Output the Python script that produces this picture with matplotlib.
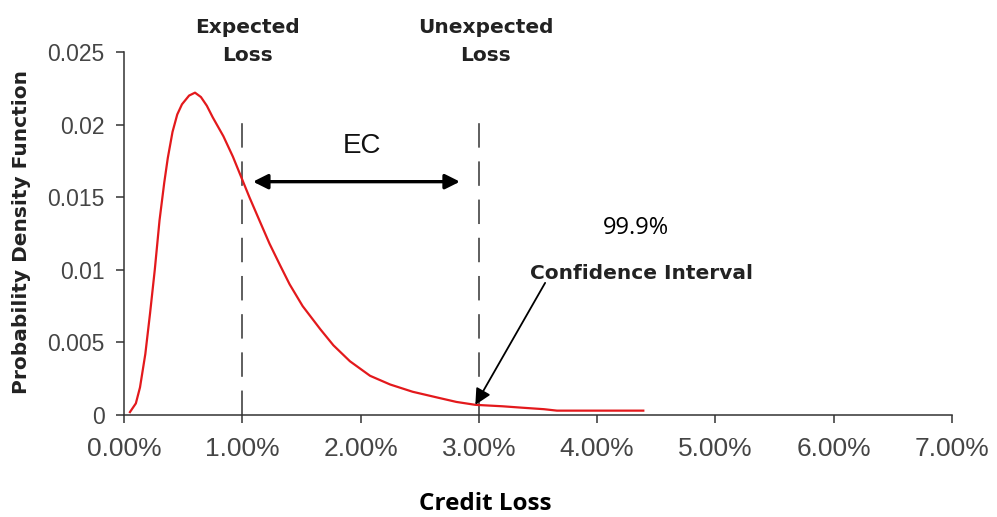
import matplotlib
matplotlib.use("Agg")
import matplotlib.pyplot as plt
from matplotlib.ticker import FuncFormatter

# credit loss (%) vs probability density
loss_pct = [0.05, 0.10, 0.135, 0.18, 0.22, 0.26, 0.30, 0.34, 0.37, 0.41, 0.45,
            0.49, 0.55, 0.60, 0.65, 0.70, 0.75, 0.84, 0.92, 0.98, 1.06, 1.15,
            1.23, 1.32, 1.40, 1.51, 1.66, 1.77, 1.91, 2.08, 2.25, 2.44, 2.65,
            2.81, 2.97, 3.20, 3.37, 3.55, 3.66, 4.00, 4.39]
density = [0.0002, 0.0008, 0.0019, 0.0042, 0.0070, 0.0100, 0.0134, 0.0160,
           0.0177, 0.0195, 0.0207, 0.0214, 0.0220, 0.0222, 0.0219, 0.0213,
           0.0205, 0.0192, 0.0178, 0.0166, 0.0150, 0.0133, 0.0118, 0.0103,
           0.0090, 0.0075, 0.0059, 0.0048, 0.0037, 0.0027, 0.0021, 0.0016,
           0.0012, 0.0009, 0.0007, 0.0006, 0.0005, 0.0004, 0.0003, 0.0003,
           0.0003]

x_ticks = [0, 1, 2, 3, 4, 5, 6, 7]
y_ticks = [0, 0.005, 0.01, 0.015, 0.02, 0.025]
y_tick_labels = ["0", "0.005", "0.01", "0.015", "0.02", "0.025"]

expected_loss = 1.0
unexpected_loss = 3.0
marker_tops = [0.0209, 0.0204]

bold = "DejaVu Sans"
arial = "Liberation Sans"
calibri = "Open Sans"
tick_grey = "#454545"
axis_grey = "#333333"

fig = plt.figure(figsize=(9.97, 5.17), dpi=100)
ax = fig.add_axes([0.1244, 0.1973, 0.8305, 0.7021])

ax.plot(loss_pct, density, color="#e3191c", linewidth=1.6, zorder=3)

# expected / unexpected loss markers
for xv, top in zip([expected_loss, unexpected_loss], marker_tops):
    ax.plot([xv, xv], [0, top], color=axis_grey, linewidth=1.1,
            linestyle=(0, (16, 9)), zorder=2)

ax.set_xlim(0, 7)
ax.set_ylim(0, 0.025)
ax.set_xticks(x_ticks)
ax.xaxis.set_major_formatter(FuncFormatter(lambda v, p: f"{v:.2f}%"))
ax.set_yticks(y_ticks)
ax.set_yticklabels(y_tick_labels)

for s in ["top", "right"]:
    ax.spines[s].set_visible(False)
for s in ["left", "bottom"]:
    ax.spines[s].set_color(axis_grey)
    ax.spines[s].set_linewidth(1.1)

ax.tick_params(axis="both", direction="out", length=6, width=1.1, color=axis_grey)
ax.tick_params(axis="x", labelsize=19, pad=10, labelcolor=tick_grey)
ax.tick_params(axis="y", labelsize=16.5, pad=8, labelcolor=tick_grey)
for lab in ax.get_xticklabels() + ax.get_yticklabels():
    lab.set_fontfamily(arial)

# headers above the markers
for xv, label in [(1.04, "Expected\nLoss"), (3.06, "Unexpected\nLoss")]:
    ax.text(xv, 0.02575, label, ha="center", va="center", fontsize=14.5,
            fontweight="bold", family=bold, color="#222222",
            linespacing=1.6, clip_on=False)

# economic capital span
ax.text(2.016, 0.0185, "EC", ha="center", va="center", fontsize=20,
        family=arial, color="#111111")
ax.annotate("", xy=(2.84, 0.01607), xytext=(1.09, 0.01607),
            arrowprops=dict(arrowstyle="<|-|>", color="black", lw=2.4,
                            mutation_scale=22, shrinkA=0, shrinkB=0))

ax.text(4.33, 0.0129, "99.9%", ha="center", va="center", fontsize=17,
        family=calibri, color="black")
ax.text(3.43, 0.00972, "Confidence Interval", ha="left", va="center",
        fontsize=14.5, fontweight="bold", family=bold, color="#222222")
ax.annotate("", xy=(2.97, 0.0007), xytext=(3.56, 0.0091),
            arrowprops=dict(arrowstyle="-|>", color="black", lw=1.3,
                            mutation_scale=24, shrinkA=0, shrinkB=0))

fig.text(22 / 997, 1 - 231.5 / 517, "Probability Density Function",
         rotation=90, ha="center", va="center", fontsize=14.5,
         fontweight="bold", family=bold, color="#222222")
fig.text(485 / 997, 1 - 504 / 517, "Credit Loss", ha="center", va="center",
         fontsize=17.5, fontweight="bold", family=calibri, color="black")

fig.savefig("out.png", dpi=100)
